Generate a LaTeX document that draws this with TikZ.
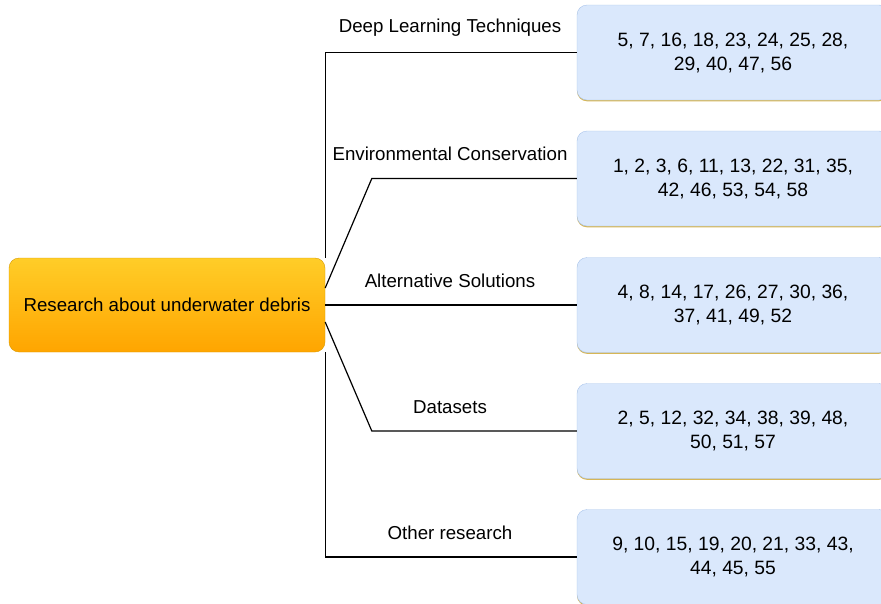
\documentclass[tikz,border=0pt]{standalone}
\usepackage{fontspec}
\setmainfont{Liberation Sans}
\usetikzlibrary{shadows}
\definecolor{hubTop}{HTML}{FFCD28}
\definecolor{hubBot}{HTML}{FFA500}
\definecolor{hubLine}{HTML}{D79B00}
\definecolor{boxFill}{HTML}{DAE8FC}
\definecolor{boxLine}{HTML}{A9C4EB}
\definecolor{boxGold}{HTML}{D6B656}

\begin{document}
\begin{tikzpicture}[x=1pt, y=-1pt,
            hub/.style={rectangle, rounded corners=10pt, draw=hubLine, top color=hubTop, bottom color=hubBot, minimum width=316pt, minimum height=94pt, inner sep=0pt, font=\fontsize{18.7}{22}\selectfont},
            box/.style={rectangle, rounded corners=10pt, draw=boxLine, fill=boxFill, minimum width=312pt, minimum height=95pt, inner sep=0pt, align=center, font=\fontsize{19.3}{24}\selectfont,
                drop shadow={shadow xshift=0pt, shadow yshift=-1.3pt, fill=boxGold, opacity=1}},
            tag/.style={inner sep=0pt, font=\fontsize{18.7}{22}\selectfont},
            wire/.style={line width=1.2pt}]

            \clip (0,0) rectangle (881,603);

            \node[hub] (root) at (167,305) {Research about underwater debris};

            \node[box] (dl) at (733,52.5) {5, 7, 16, 18, 23, 24, 25, 28,\\29, 40, 47, 56};
            \node[box] (env) at (733,178.5) {1, 2, 3, 6, 11, 13, 22, 31, 35,\\42, 46, 53, 54, 58};
            \node[box] (alt) at (733,305) {4, 8, 14, 17, 26, 27, 30, 36,\\37, 41, 49, 52};
            \node[box] (dat) at (733,431) {2, 5, 12, 32, 34, 38, 39, 48,\\50, 51, 57};
            \node[box] (oth) at (733,557) {9, 10, 15, 19, 20, 21, 33, 43,\\44, 45, 55};

            \draw[wire] (root.north east) |- (dl.west);
            \draw[wire] ([yshift=17pt]root.east) -- ([xshift=-205pt]env.west) -- (env.west);
            \draw[wire] (root.east) -- (alt.west);
            \draw[wire] ([yshift=-17pt]root.east) -- ([xshift=-205pt]dat.west) -- (dat.west);
            \draw[wire] (root.south east) |- (oth.west);

            \node[tag] (tdl) at (450,28) {Deep Learning Techniques};
            \node[tag] (tenv) at (450,154) {Environmental Conservation};
            \node[tag] (talt) at (450,281) {Alternative Solutions};
            \node[tag] (tdat) at (450,407) {Datasets};
            \node[tag] (toth) at (450,533) {Other research};
        \end{tikzpicture}
\end{document}
